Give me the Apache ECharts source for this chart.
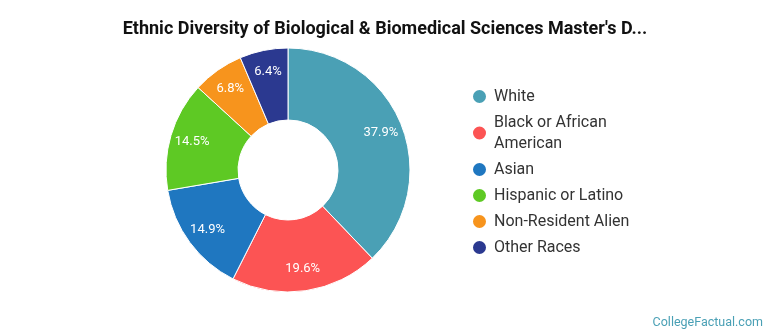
<!DOCTYPE html>
<html>
<head>
<meta charset="utf-8">
<script src="https://cdn.jsdelivr.net/npm/echarts@6/dist/echarts.min.js"></script>
<style>html,body{margin:0;padding:0;background:#fff;}#c{width:770px;height:335px;}</style>
</head>
<body>
<div id="c"></div>
<script>
const categories = ['White', 'Black or African American', 'Asian', 'Hispanic or Latino', 'Non-Resident Alien', 'Other Races'];
const values = [37.9, 19.6, 14.9, 14.5, 6.8, 6.4];
const colors = ['#4aa0b5', '#fc5454', '#1f77c0', '#5ec924', '#f7941d', '#2b3990'];
const titleText = "Ethnic Diversity of Biological & Biomedical Sciences Master's D...";

const chart = echarts.init(document.getElementById('c'), null, {renderer: 'canvas'});
const data = categories.map((n, i) => ({name: n, value: values[i], itemStyle: {color: colors[i]}}));
chart.setOption({
  animation: false,
  title: {
    text: titleText, left: 'center', top: 15,
    textStyle: {fontFamily: 'Roboto', fontWeight: 'bold', fontSize: 18, color: '#111'}
  },
  legend: {
    orient: 'vertical', left: 466, top: 81,
    icon: 'circle', itemWidth: 15, itemHeight: 15, itemGap: 5,
    data: categories,
    formatter: n => n === 'Black or African American' ? 'Black or African\nAmerican' : n,
    textStyle: {fontFamily: 'Roboto', fontSize: 16, color: '#333', lineHeight: 21, padding: [0, 0, 0, 2]}
  },
  graphic: [{
    type: 'text', right: 7, bottom: 6,
    style: {text: 'CollegeFactual.com', fill: '#4aa0b5', font: '12.5px Roboto'}
  }],
  series: [{
    type: 'pie', center: [288, 170], radius: [50, 122],
    startAngle: 90, clockwise: true,
    data: data,
    itemStyle: {borderColor: '#fff', borderWidth: 1},
    label: {show: false},
    labelLine: {show: false},
    emphasis: {disabled: true}
  }, {
    type: 'pie', center: [288, 170], radius: [72, 122],
    startAngle: 90, clockwise: true, silent: true,
    data: categories.map((n, i) => ({name: n, value: values[i]})),
    itemStyle: {color: 'rgba(0,0,0,0)'},
    label: {show: true, position: 'inside', formatter: p => p.value.toFixed(1) + '%',
      fontFamily: 'Roboto', fontSize: 13, color: '#fff'},
    labelLine: {show: false},
    emphasis: {disabled: true}
  }]
});
</script>
</body>
</html>
